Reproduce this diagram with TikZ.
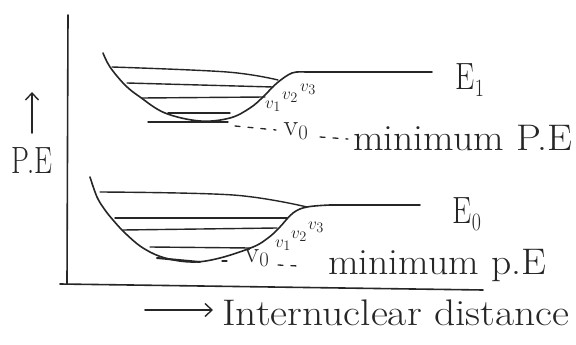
\documentclass[tikz,border=0pt]{standalone}
\usetikzlibrary{arrows.meta}
\begin{document}
\begin{tikzpicture}[x=1pt,y=-1pt,
  pen/.style={line width=1.6pt, draw=black!85, line cap=round, line join=round},
  lvl/.style={pen, line width=1.4pt},
  dashln/.style={pen, line width=1.3pt, dash pattern=on 5pt off 8pt},
  lbl/.style={inner sep=0pt, text=black!85},
  big/.style={lbl, font=\fontsize{38}{38}\selectfont, xscale=0.8},
  mid/.style={lbl, font=\fontsize{37}{37}\selectfont, xscale=1.07},
  vv/.style={lbl, font=\fontsize{19}{19}\selectfont},
  vz/.style={lbl, font=\fontsize{30}{30}\selectfont},
  barb/.style={-{Straight Barb[length=7pt,width=13pt,line width=1.4pt]}}]
\useasboundingbox (0,0) rectangle (576,345);
\fill[white] (0,0) rectangle (576,345);

% axes
\coordinate (ytop) at (68,15);
\coordinate (org) at (67,284);
\coordinate (xst) at (60,284);
\coordinate (xend) at (483,290);
\draw[pen] (ytop) -- (org);
\draw[pen] (xst) -- (xend);

% ---------- upper state E1 ----------
\draw[pen] plot[smooth, tension=0.6] coordinates {(103,53) (110,67) (125,85) (140,97) (165,113) (200,121) (230,118) (250,108) (263,97) (277,83) (292,73) (305,72)} -- (432,72);
\draw[lvl] plot[smooth, tension=0.6] coordinates {(112,67) (227,72) (278,80)};
\draw[lvl] (127,83) -- (273,87);
\draw[lvl] (142,98) -- (265,97);
\draw[lvl] (168,113) -- (230,113);
\draw[lvl] (148,122) -- (228,122);
\draw[dashln] (235,126) -- (276,130);
\node[vz] (v0a) at (296,131) {v$_0$};
\draw[dashln] (320,137) -- (348,139);
\node[mid, anchor=west] (mina) at (353,138) {minimum P.E};
\node[vv] (v1a) at (273,106) {$v_1$};
\node[vv] (v2a) at (290,97) {$v_2$};
\node[vv] (v3a) at (308,89) {$v_3$};
\node[big] (e1) at (470,80) {E$_1$};

% ---------- lower state E0 ----------
\draw[pen] plot[smooth, tension=0.6] coordinates {(90,177) (97,197) (105,210) (113,220) (125,233) (143,248) (165,258) (193,262) (220,258) (253,247) (268,238) (279,228) (293,213) (307,207) (330,205)} -- (420,205);
\draw[lvl] plot[smooth, tension=0.6] coordinates {(100,192) (233,195) (307,207)};
\draw[lvl] (115,218) -- (287,218);
\draw[lvl] (123,230) -- (277,228);
\draw[lvl] (150,247) -- (250,248);
\draw[lvl, line width=2pt] (157,258) -- (200,262);
\draw[dashln] (222,261) -- (234,261);
\node[vz] (v0b) at (257,258) {v$_0$};
\draw[dashln] (278,265) -- (298,266);
\node[mid, anchor=west] (minb) at (328,266) {minimum p.E};
\node[vv] (v1b) at (283,245) {$v_1$};
\node[vv] (v2b) at (299,236) {$v_2$};
\node[vv] (v3b) at (316,227) {$v_3$};
\node[big] (e0) at (467,214) {E$_0$};

% ---------- axis labels ----------
\coordinate (pa) at (32,133);
\coordinate (pb) at (32,92);
\draw[pen, barb] (pa) -- (pb);
\node[lbl, font=\fontsize{38}{38}\selectfont, xscale=0.75] (pe) at (32,161) {P.E};
\coordinate (da) at (145,310);
\coordinate (db) at (213,310);
\draw[pen, barb] (da) -- (db);
\node[mid, anchor=west, xscale=1.05] (dist) at (222,313) {Internuclear distance};
\end{tikzpicture}
\end{document}
